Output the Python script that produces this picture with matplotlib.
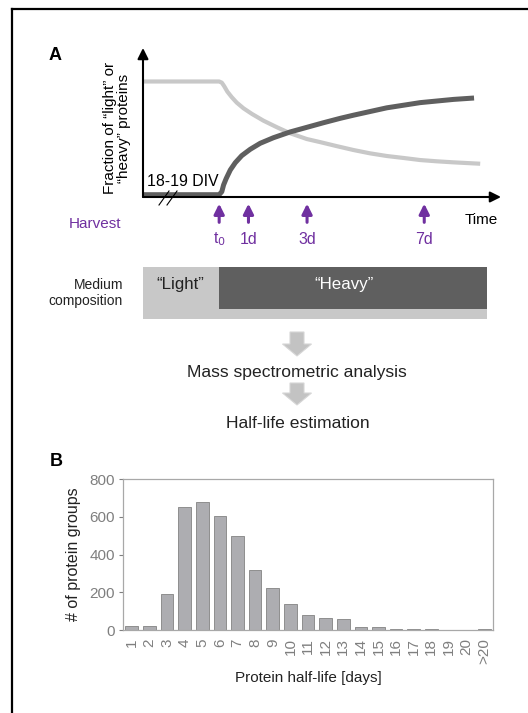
import matplotlib
matplotlib.use("Agg")
import matplotlib.pyplot as plt
from matplotlib.patches import FancyArrow

plt.rcParams["font.family"] = ["Liberation Sans", "DejaVu Sans"]

W, H = 528, 713

# ── Panel A: schematic labelling curves (time in days, fraction 0..1) ──
LIGHT_T = [-2.6, 0.0, 0.09, 0.17, 0.28, 0.43, 0.60, 0.83, 1.12, 1.51, 1.97, 2.42,
           2.99, 3.45, 4.02, 4.58, 5.15, 5.72, 6.29, 6.86, 7.43, 8.0, 8.91]
LIGHT_F = [1.0, 1.0, 0.99, 0.96, 0.912, 0.864, 0.817, 0.768, 0.719, 0.661, 0.604, 0.552,
           0.502, 0.475, 0.44, 0.407, 0.378, 0.355, 0.338, 0.32, 0.309, 0.30, 0.288]

HEAVY_T = [-2.6, 0.0, 0.09, 0.15, 0.24, 0.38, 0.55, 0.77, 1.06, 1.40, 1.85, 2.42,
           2.99, 3.56, 4.13, 4.58, 5.72, 6.86, 8.0, 8.70]
HEAVY_F = [0.02, 0.02, 0.046, 0.104, 0.16, 0.234, 0.297, 0.358, 0.413, 0.465, 0.513, 0.563,
           0.603, 0.643, 0.681, 0.708, 0.772, 0.817, 0.845, 0.857]

HARVEST_DAYS = [0, 1, 3, 7]
HARVEST_LABELS = ["t$_0$", "1d", "3d", "7d"]

# medium composition phases (days)
LIGHT_PHASE = (-2.6, 9.15)
HEAVY_PHASE = (0.0, 9.15)

# ── Panel B: half-life histogram ──
HALF_LIFE_BINS = ["1", "2", "3", "4", "5", "6", "7", "8", "9", "10", "11",
                  "12", "13", "14", "15", "16", "17", "18", "19", "20", ">20"]
PROTEIN_GROUPS = [22, 22, 190, 650, 678, 605, 500, 320, 222, 140, 82,
                  63, 57, 18, 14, 7, 3, 3, 2, 2, 6]

PURPLE = "#7030a0"
LIGHT_GREY = "#c8c8c8"
DARK_GREY = "#5f5f5f"
TEXT_GREY = "#7f7f7f"


def px_axes(fig, left, top, right, bottom):
    return fig.add_axes([left / W, 1 - bottom / H, (right - left) / W, (bottom - top) / H])


fig = plt.figure(figsize=(W / 100, H / 100), dpi=100)

# ── Panel A ───────────────────────────────────────────────────
ax = px_axes(fig, 143, 48, 501, 197)
ax.set_xlim(-2.6, 9.62)
ax.set_ylim(0, 1.29)
ax.axis("off")

ax.plot(LIGHT_T, LIGHT_F, color=LIGHT_GREY, lw=3.0, solid_capstyle="butt", clip_on=False)
ax.plot(HEAVY_T, HEAVY_F, color=DARK_GREY, lw=3.6, solid_capstyle="butt", clip_on=False)

ax.annotate("", xy=(1.0, 0), xytext=(0, 0), xycoords="axes fraction",
            arrowprops=dict(arrowstyle="-|>", color="black", lw=1.5,
                            mutation_scale=16, shrinkA=0, shrinkB=0))
ax.annotate("", xy=(0, 1.0), xytext=(0, 0), xycoords="axes fraction",
            arrowprops=dict(arrowstyle="-|>", color="black", lw=1.5,
                            mutation_scale=16, shrinkA=0, shrinkB=0))

trans = ax.get_xaxis_transform()
for day, lab in zip(HARVEST_DAYS, HARVEST_LABELS):
    ax.annotate("", xy=(day, -0.045), xytext=(day, -0.17), xycoords=trans,
                arrowprops=dict(arrowstyle="-|>", color=PURPLE, lw=2.2,
                                mutation_scale=15, shrinkA=0, shrinkB=0),
                annotation_clip=False)
    ax.text(day, -0.285, lab, transform=trans, color=PURPLE, fontsize=11.4,
            ha="center", va="center", clip_on=False)

# ── Medium composition bar ────────────────────────────────────
mx = px_axes(fig, 143, 267, 501, 319)
mx.set_xlim(-2.6, 9.62)
mx.set_ylim(0, 1)
mx.axis("off")
mx.barh(0.5, LIGHT_PHASE[1] - LIGHT_PHASE[0], left=LIGHT_PHASE[0], height=1.0,
        color=LIGHT_GREY, edgecolor="none")
mx.barh(0.596, HEAVY_PHASE[1] - HEAVY_PHASE[0], left=HEAVY_PHASE[0], height=0.808,
        color=DARK_GREY, edgecolor="none")

# ── Panel B: histogram ────────────────────────────────────────
bx = px_axes(fig, 123, 479, 493, 630)
xs = list(range(len(HALF_LIFE_BINS)))
bx.bar(xs, PROTEIN_GROUPS, width=0.72, color="#adadb1", edgecolor="#8e8e8e", lw=0.7)
bx.set_xlim(-0.5, len(xs) - 0.5)
bx.set_ylim(0, 800)
bx.set_yticks([0, 200, 400, 600, 800])
bx.set_xticks(xs)
bx.set_xticklabels(HALF_LIFE_BINS, rotation=90)
bx.tick_params(axis="x", colors=TEXT_GREY, labelsize=11, length=0, pad=6)
bx.tick_params(axis="y", colors=TEXT_GREY, labelsize=11, length=3, width=0.8, pad=3)
for s in bx.spines.values():
    s.set_color("#a8a8a8")
    s.set_linewidth(0.9)
bx.set_xlabel("Protein half-life [days]", fontsize=11, color="#222222", labelpad=5)
bx.set_ylabel("# of protein groups", fontsize=11.5, color="#222222", labelpad=6)

# overlay axes in pixel coordinates for frame, labels and flow arrows
bg = fig.add_axes([0, 0, 1, 1])
bg.set_xlim(0, W)
bg.set_ylim(H, 0)
bg.axis("off")
bg.set_zorder(10)

bg.plot([12, W], [9, 9], color="black", lw=1.6)
bg.plot([12, 12], [9, H], color="black", lw=1.6)

bg.text(55, 56, "A", fontsize=13, fontweight="bold", ha="center", va="center")
bg.text(56, 461, "B", fontsize=13, fontweight="bold", ha="center", va="center")

# axis break marks
bg.plot([159, 169], [205, 191], color="black", lw=0.8)
bg.plot([167, 177], [205, 191], color="black", lw=0.8)

bg.text(147, 182, "18-19 DIV", fontsize=11.4, ha="left", va="center")
bg.text(95, 224, "Harvest", fontsize=11, color=PURPLE, ha="center", va="center")
bg.text(481, 220, "Time", fontsize=11, ha="center", va="center")
bg.text(117, 128, "Fraction of \u201clight\u201d or\n\u201cheavy\u201d proteins",
        fontsize=11, rotation=90, ha="center", va="center", linespacing=1.05)

bg.text(180, 285, "\u201cLight\u201d", fontsize=12.2, color="#222222", ha="center", va="center")
bg.text(344, 285, "\u201cHeavy\u201d", fontsize=12.2, color="white", ha="center", va="center")
bg.text(123, 293, "Medium\ncomposition", fontsize=10, ha="right", va="center",
        multialignment="right", color="#222222")

for y0, length in [(332, 24), (383, 22)]:
    bg.add_patch(FancyArrow(297, y0, 0, length, width=14, head_width=29, head_length=12,
                            length_includes_head=True, facecolor="#c3c3c3",
                            edgecolor="#d6d6d6", lw=0.8))
bg.text(297, 373, "Mass spectrometric analysis", fontsize=12.6, ha="center", va="center",
        color="#222222")
bg.text(298, 423, "Half-life estimation", fontsize=12.6, ha="center", va="center",
        color="#222222")

fig.savefig("out.png", dpi=100)
